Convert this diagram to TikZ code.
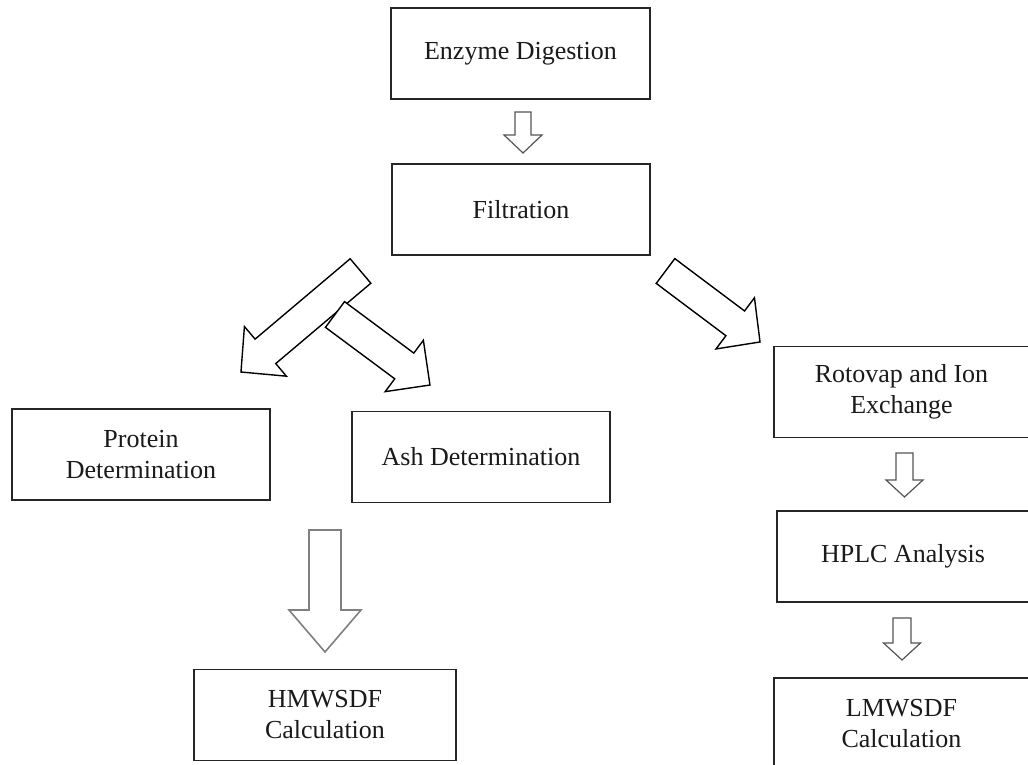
\documentclass[tikz,border=0pt]{standalone}
\usepackage{fontspec}
\setmainfont{Liberation Serif}
\definecolor{ink}{HTML}{1A1A1A}
\definecolor{boxline}{HTML}{262626}
\definecolor{smallarrow}{HTML}{555555}
\definecolor{bigarrow}{HTML}{808080}
\tikzset{
  box/.style={draw=boxline, line width=1.5pt, minimum width=258pt, minimum height=91pt,
    inner sep=0pt, align=center, text=ink, font=\fontsize{26}{31}\selectfont},
  pics/barrow/.style n args={4}{code={
    \draw[pic actions] (0,#2/2) -- (#1-#4,#2/2) -- (#1-#4,#3/2) -- (#1,0)
      -- (#1-#4,-#3/2) -- (#1-#4,-#2/2) -- (0,-#2/2) -- cycle;
  }},
  diagarrow/.style={draw=black, fill=white, line width=1.4pt, line join=miter},
  smallblock/.style={draw=smallarrow, fill=white, line width=1.2pt},
  bigblock/.style={draw=bigarrow, fill=white, line width=1.6pt},
}
\begin{document}
\begin{tikzpicture}[x=1pt,y=-1pt]
\useasboundingbox (0,0) rectangle (1028,765);
\fill[white] (0,0) rectangle (1028,765);

% boxes
\node[box, minimum width=259pt] (enz) at (520.5,53.5) {Enzyme Digestion};
\node[box] (fil) at (521,209.5) {Filtration};
\node[box] (pro) at (141,454.5) {Protein\\Determination};
\node[box] (ash) at (481,457) {Ash Determination};
\node[box, minimum width=255pt] (rot) at (901.5,392) {Rotovap and Ion\\Exchange};
\node[box, minimum width=252pt] (hplc) at (903,556.5) {HPLC Analysis};
\node[box, minimum width=262pt] (hmw) at (325,715) {HMWSDF\\Calculation};
\node[box, minimum width=255pt] (lmw) at (901.5,723.5) {LMWSDF\\Calculation};

% small block arrows
\pic[smallblock, rotate=-90] at (523,112) {barrow={41}{16}{38}{18}};
\pic[smallblock, rotate=-90] at (904.5,453) {barrow={44}{17}{37}{17}};
\pic[smallblock, rotate=-90] at (902,618) {barrow={42}{18}{37}{17}};

% big down arrow
\pic[bigblock, rotate=-90] at (325,530) {barrow={122}{32}{72}{42}};

% diagonal arrows
\pic[diagarrow, rotate=220.2] at (360.5,271) {barrow={156.5}{32}{65}{32}};
\pic[diagarrow, rotate=-36.6] at (335,314.5) {barrow={118.3}{32}{64}{32}};
\pic[diagarrow, rotate=-36.9] at (665.5,271) {barrow={118.2}{31}{64}{31}};
\end{tikzpicture}
\end{document}
